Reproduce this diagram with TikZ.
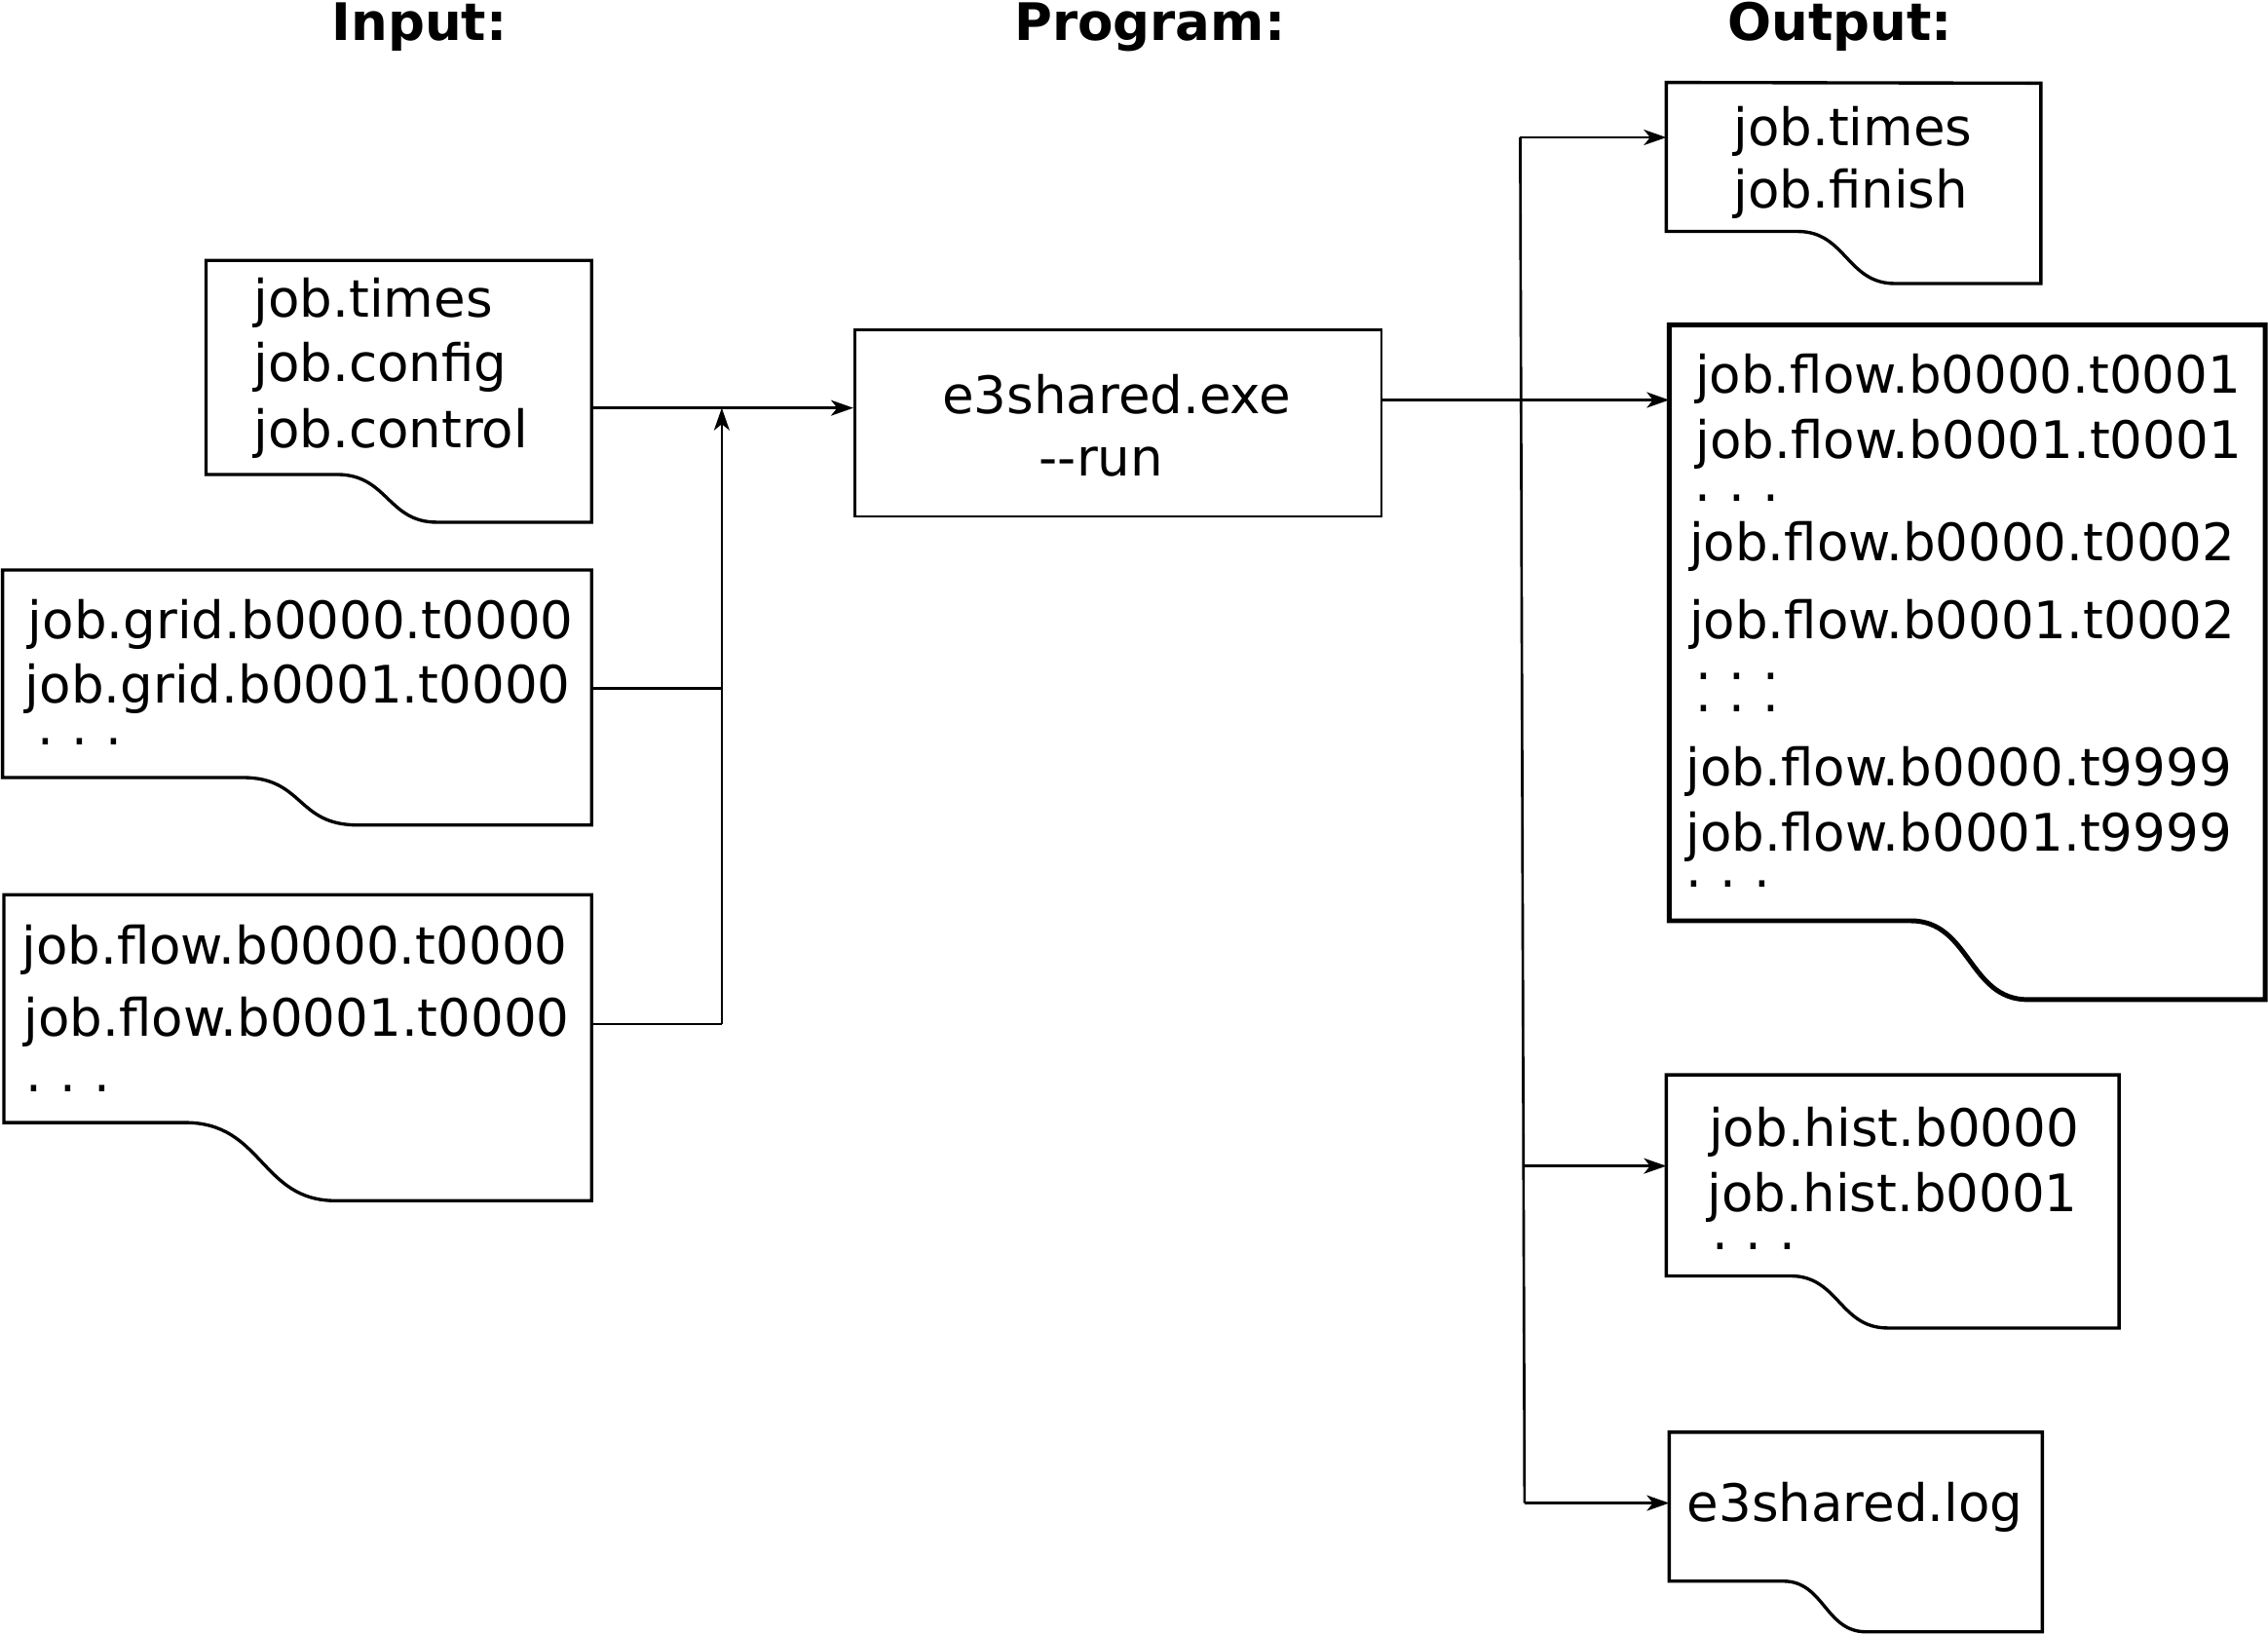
\documentclass[tikz,border=0pt]{standalone}
\usepackage{fontspec}
\setmainfont{DejaVu Sans}
\usetikzlibrary{arrows.meta}
\newcommand{\docfont}{\fontsize{15}{18}\selectfont}
\newcommand{\fdots}{.\kern0.34em.\kern0.34em.}

\begin{document}
\begin{tikzpicture}[x=0.42pt,y=-0.42pt,
  doc/.style={line width=0.95pt},
  bigdoc/.style={line width=1.4pt},
  link/.style={line width=0.75pt},
  arr/.style={link,-{Stealth[length=6.5pt,width=4.5pt,inset=1.8pt]}},
  fname/.style={anchor=base west,inner sep=0pt,font=\docfont},
  head/.style={anchor=base,inner sep=0pt,font=\docfont\bfseries}]
\useasboundingbox (0,0) rectangle (1568,1130);
% column heads
\node[head] (hin) at (290,28) {Input:};
\node[head] (hprog) at (795,28) {Program:};
\node[head] (hout) at (1272,28) {Output:};
%in1 job files
\draw[doc] (142.5,180) -- (409,180) -- (409,361) -- (302,361) .. controls (268,361) and (268,328) .. (233,328) -- (142.5,328) -- cycle;
\node[fname] (in1a) at (175,219.4) {job.times};
\node[fname] (in1b) at (175,263.8) {job.config};
\node[fname] (in1c) at (175,309.8) {job.control};
%in2 grid files
\draw[doc] (1.8,394) -- (409,394) -- (409,570.3) -- (247,570.3) .. controls (205,570.3) and (210,537.5) .. (168,537.5) -- (1.8,537.5) -- cycle;
\node[fname] (in2a) at (19,441.8) {job.grid.b0000.t0000};
\node[fname] (in2b) at (17,486.1) {job.grid.b0001.t0000};
\node[fname] (in2c) at (25.5,514.8) {\fdots};
%in3 flow files
\draw[doc] (2.7,618.5) -- (409,618.5) -- (409,830) -- (232,830) .. controls (180,830) and (182,776) .. (128,776) -- (2.7,776) -- cycle;
\node[fname] (in3a) at (14.6,666.8) {job.flow.b0000.t0000};
\node[fname] (in3b) at (16,716.2) {job.flow.b0001.t0000};
\node[fname] (in3c) at (17.5,755) {\fdots};
%program
\node[draw,line width=0.8pt,minimum width=152.9pt,minimum height=54.2pt,inner sep=0pt] (prog) at (773,292.5) {};
\node[fname] (exe) at (651,286) {e3shared.exe};
\node[fname] (run) at (718,329.3) {-{}-run};
%out1 times
\draw[doc] (1152,57) -- (1411,57.5) -- (1411,196) -- (1310,196) .. controls (1277,196) and (1276,160) .. (1243,160) -- (1152,160) -- cycle;
\node[fname] (out1a) at (1198,100.5) {job.times};
\node[fname] (out1b) at (1198,143.5) {job.finish};
%out2 flow files
\draw[bigdoc] (1154,224.5) -- (1566,224.5) -- (1566,691) -- (1402,691) .. controls (1361,691) and (1362,636.5) .. (1321,636.5) -- (1154,636.5) -- cycle;
\node[fname] (out2a) at (1171.5,272.1) {job.flow.b0000.t0001};
\node[fname] (out2b) at (1172,317) {job.flow.b0001.t0001};
\node[fname] (out2c) at (1171,346.3) {\fdots};
\node[fname] (out2d) at (1167.5,387.3) {job.flow.b0000.t0002};
\node[fname] (out2e) at (1167.5,441.2) {job.flow.b0001.t0002};
\node[fname] (out2f) at (1171.5,469.8) {\fdots};
\node[fname] (out2g) at (1171.5,492.3) {\fdots};
\node[fname] (out2h) at (1165.2,542.9) {job.flow.b0000.t9999};
\node[fname] (out2i) at (1165.2,588.2) {job.flow.b0001.t9999};
\node[fname] (out2j) at (1165,613.5) {\fdots};
%out3 hist
\draw[doc] (1152,743) -- (1465,743) -- (1465,918) -- (1305,918) .. controls (1272,918) and (1271,882) .. (1238,882) -- (1152,882) -- cycle;
\node[fname] (out3a) at (1181,792.5) {job.hist.b0000};
\node[fname] (out3b) at (1180,837.5) {job.hist.b0001};
\node[fname] (out3c) at (1183,864) {\fdots};
%out4 log
\draw[doc] (1154,990) -- (1412,990) -- (1412,1128) -- (1290,1128) .. controls (1262,1128) and (1261,1093) .. (1233,1093) -- (1154,1093) -- cycle;
\node[fname] (out4a) at (1166,1051.5) {e3shared.log};
% input links
\coordinate (in1e) at (409,282);
\coordinate (in2e) at (409,476);
\coordinate (in3e) at (409,708);
\coordinate (ibtop) at (499,282);
\coordinate (ibbot) at (499,708);
\draw[arr] (in1e) -- (prog.west |- in1e);
\draw[arr] (ibbot) -- (ibtop);
\draw[link] (in2e) -- (in2e -| ibtop);
\draw[link] (in3e) -- (ibbot);
% output links
\coordinate (proge) at (955,276.5);
\coordinate (obtop) at (1051,95);
\coordinate (obmid) at (1053,806);
\coordinate (obbot) at (1054,1039);
\draw[arr] (proge) -- (1154,276.5);
\draw[link] (obtop) -- (obbot);
\draw[arr] (obtop) -- (1152,95);
\draw[arr] (obmid) -- (1152,806);
\draw[arr] (obbot) -- (1154,1039);
\end{tikzpicture}
\end{document}
